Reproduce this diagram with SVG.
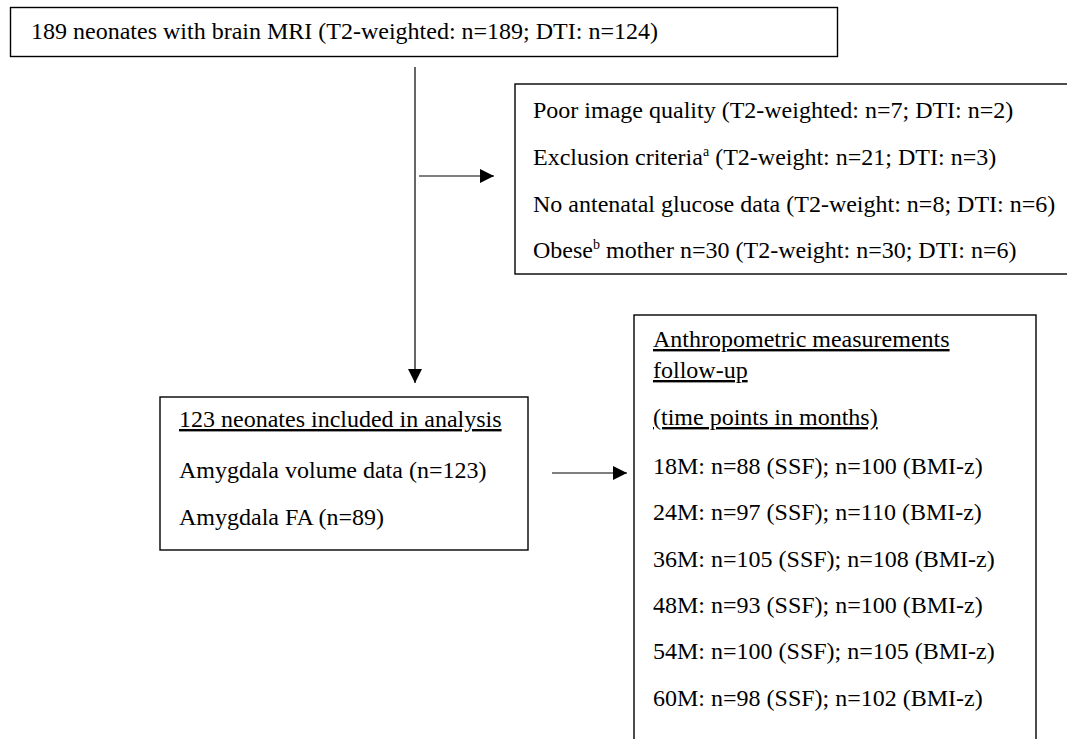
<svg xmlns="http://www.w3.org/2000/svg" width="1067" height="739" viewBox="0 0 1067 739">
<defs>
<style>
.box{fill:#fff;stroke:#000;stroke-width:1.4}
.t{font-family:"Liberation Serif","Times New Roman",serif;font-size:24px;fill:#000}
.u{text-decoration:underline}
.sup{font-size:14px}
.c{stroke:#000;stroke-width:1.2;fill:none}
</style>
<marker id="ah" viewBox="0 0 14 14" refX="14" refY="7" markerWidth="14" markerHeight="14" markerUnits="userSpaceOnUse" orient="auto">
<path d="M0,0 L14,7 L0,14 Z" fill="#000"/>
</marker>
</defs>
<rect width="1067" height="739" fill="#fff"/>
<g id="connectors">
<line class="c" x1="415" y1="67" x2="415" y2="383" marker-end="url(#ah)"/>
<line class="c" x1="419" y1="176" x2="494" y2="176" marker-end="url(#ah)"/>
<line class="c" x1="552" y1="473" x2="627" y2="473" marker-end="url(#ah)"/>
</g>
<g id="node-mri">
<rect class="box" x="10.5" y="7.5" width="827" height="49"/>
<text class="t" x="31" y="39">189 neonates with brain MRI (T2-weighted: n=189; DTI: n=124)</text>
</g>
<g id="node-excluded">
<rect class="box" x="515" y="84" width="570" height="190"/>
<text class="t" x="533" y="118">Poor image quality (T2-weighted: n=7; DTI: n=2)</text>
<text class="t" x="533" y="165">Exclusion criteria<tspan class="sup" dy="-9">a</tspan><tspan dy="9"> (T2-weight: n=21; DTI: n=3)</tspan></text>
<text class="t" x="533" y="212">No antenatal glucose data (T2-weight: n=8; DTI: n=6)</text>
<text class="t" x="533" y="258">Obese<tspan class="sup" dy="-9">b</tspan><tspan dy="9"> mother n=30 (T2-weight: n=30; DTI: n=6)</tspan></text>
</g>
<g id="node-included">
<rect class="box" x="160" y="397" width="368" height="153"/>
<text class="t u" x="179" y="427">123 neonates included in analysis</text>
<text class="t" x="179" y="478">Amygdala volume data (n=123)</text>
<text class="t" x="179" y="525">Amygdala FA (n=89)</text>
</g>
<g id="node-followup">
<rect class="box" x="634" y="315" width="402" height="440"/>
<text class="t u" x="653" y="347">Anthropometric measurements</text>
<text class="t u" x="653" y="378">follow-up</text>
<text class="t u" x="653" y="425">(time points in months)</text>
<text class="t" x="653" y="474">18M: n=88 (SSF); n=100 (BMI-z)</text>
<text class="t" x="653" y="520">24M: n=97 (SSF); n=110 (BMI-z)</text>
<text class="t" x="653" y="567">36M: n=105 (SSF); n=108 (BMI-z)</text>
<text class="t" x="653" y="613">48M: n=93 (SSF); n=100 (BMI-z)</text>
<text class="t" x="653" y="659">54M: n=100 (SSF); n=105 (BMI-z)</text>
<text class="t" x="653" y="706">60M: n=98 (SSF); n=102 (BMI-z)</text>
</g>
</svg>
